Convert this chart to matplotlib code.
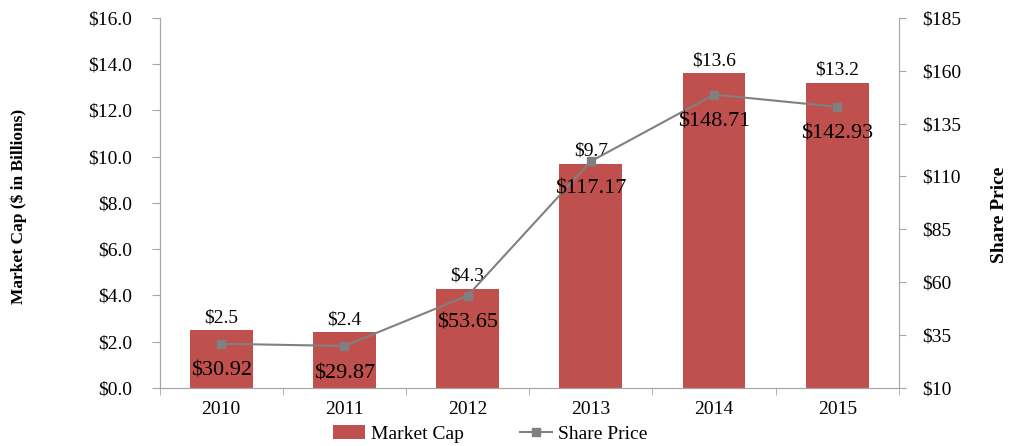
import matplotlib.pyplot as plt
import numpy as np

plt.rcParams['font.family'] = ['Liberation Serif', 'DejaVu Serif']

# Data
years = ['2010', '2011', '2012', '2013', '2014', '2015']
market_cap = [2.5, 2.4, 4.3, 9.7, 13.6, 13.2]
share_price = [30.92, 29.87, 53.65, 117.17, 148.71, 142.93]

x = np.arange(len(years))
spine_col = '#A6A6A6'

fig = plt.figure(figsize=(10.1, 4.46), dpi=100)
ax = fig.add_axes([0.158, 0.130, 0.732, 0.830])
ax2 = ax.twinx()

# Bars for market cap
bars = ax.bar(x, market_cap, width=0.51, color='#C0504D', label='Market Cap', zorder=2)
for xi, v in zip(x, market_cap):
    ax.annotate('$' + format(v, '.1f'), (xi, v), xytext=(0, 3), textcoords='offset points',
                ha='center', va='bottom', fontsize=14)

ax.set_xlim(-0.5, len(years) - 0.5)
ax.set_ylim(0, 16)
ax.set_yticks(np.arange(0, 17, 2))
ax.set_yticklabels(['$' + format(v, '.1f') for v in np.arange(0, 17, 2)], fontsize=14)
ax.set_ylabel('Market Cap ($ in Billions)', fontsize=12.5, fontweight='bold')
ax.yaxis.set_label_coords(-0.18, 0.49)

ax.set_xticks(x)
ax.set_xticklabels(years, fontsize=14)
ax.tick_params(axis='x', length=0, pad=9)
ax.set_xticks(np.arange(-0.5, len(years)), minor=True)
ax.tick_params(axis='x', which='minor', length=5, color=spine_col)
ax.tick_params(axis='y', length=5.5, color=spine_col, pad=14)

# Share price line
line, = ax2.plot(x, share_price, color='#808080', marker='s', markersize=6,
                 linewidth=1.5, label='Share Price', zorder=3)
for xi, v in zip(x, share_price):
    ax2.annotate('$' + format(v, '.2f'), (xi, v), xytext=(0, -13), textcoords='offset points',
                 ha='center', va='top', fontsize=16)

ax2.set_ylim(10, 185)
ax2.set_yticks(np.arange(10, 186, 25))
ax2.set_yticklabels(['$' + str(v) for v in np.arange(10, 186, 25)], fontsize=14)
ax2.set_ylabel('Share Price', fontsize=14, fontweight='bold')
ax2.yaxis.set_label_coords(1.125, 0.468)
ax2.tick_params(axis='y', length=5, color=spine_col, pad=12)

for a in (ax, ax2):
    a.spines['top'].set_visible(False)
    for s in ('left', 'right', 'bottom'):
        a.spines[s].set_color(spine_col)
ax.spines['right'].set_visible(False)

fig.legend([bars, line], ['Market Cap', 'Share Price'], loc='center',
           bbox_to_anchor=(0.485, 0.027), ncol=2, frameon=False, fontsize=14,
           handlelength=1.65, handletextpad=0.3, columnspacing=2.9)

fig.savefig('out.png', dpi=100)
